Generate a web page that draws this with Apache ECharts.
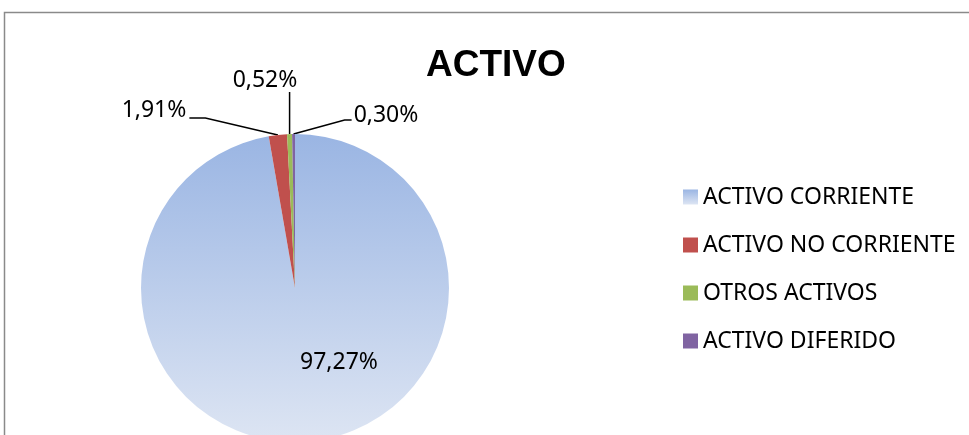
<!DOCTYPE html>
<html>
<head>
<meta charset="utf-8">
<script src="https://cdn.jsdelivr.net/npm/echarts@6/dist/echarts.min.js"></script>
<style>
  html, body { margin: 0; padding: 0; background: #fff; }
  #chart { width: 969px; height: 435px; }
</style>
</head>
<body>
<div id="chart"></div>
<script>
// datos
const categorias = ['ACTIVO CORRIENTE', 'ACTIVO NO CORRIENTE', 'OTROS ACTIVOS', 'ACTIVO DIFERIDO']
const valores = [97.27, 1.91, 0.52, 0.30]
const colores = ['#9cb6e3', '#c0504d', '#9bbb59', '#8064a2']

const chart = echarts.init(document.getElementById('chart'))

const blueGrad = new echarts.graphic.LinearGradient(0, 0, 0, 1, [
  { offset: 0, color: '#9ab5e3' },
  { offset: 1, color: '#dde5f3' }
])

// donde va cada etiqueta (centro del texto)
const labelPos = [
  { x: 339, y: 362 },
  { x: 154, y: 110 },
  { x: 265, y: 80 },
  { x: 386, y: 115 }
]

const option = {
  animation: false,
  title: {
    text: 'ACTIVO',
    left: 421,
    top: 42,
    textStyle: {
      fontFamily: 'Liberation Sans',
      fontWeight: 'bold',
      fontSize: 37,
      color: '#000'
    }
  },
  graphic: [
    {
      type: 'rect',
      shape: { x: 4.5, y: 12.5, width: 1100, height: 1000 },
      style: { fill: 'none', stroke: '#8a8a8a', lineWidth: 1.5 },
      silent: true
    }
  ],
  legend: {
    orient: 'vertical',
    left: 678,
    top: 180,
    itemWidth: 15,
    itemHeight: 15,
    itemGap: 24,
    icon: 'rect',
    textStyle: {
      fontFamily: 'Noto Sans',
      fontSize: 23,
      lineHeight: 24,
      color: '#000'
    },
    data: categorias
  },
  series: [
    {
      type: 'pie',
      center: [295, 288],
      radius: 154,
      startAngle: 90,
      clockwise: true,
      avoidLabelOverlap: false,
      data: categorias.map((name, i) => ({
        name,
        value: valores[i],
        itemStyle: { color: i === 0 ? blueGrad : colores[i] },
        label: { position: i === 0 ? 'inside' : 'outside' },
        labelLine: { show: i !== 0 }
      })),
      label: {
        formatter: p => p.value.toFixed(2).replace('.', ',') + '%',
        fontFamily: 'Noto Sans',
        fontSize: 23,
        color: '#000'
      },
      labelLine: {
        lineStyle: { color: '#000', width: 1.5 }
      },
      labelLayout: params => {
        const i = params.dataIndex
        const pos = labelPos[i]
        const out = { x: pos.x, y: pos.y, align: 'center', verticalAlign: 'middle' }
        const a = params.labelLinePoints ? params.labelLinePoints[0] : null
        if (a) {
          const r = params.labelRect
          const w = r.width / 2
          if (i === 1) {
            out.labelLinePoints = [a, [pos.x + w + 19, pos.y + 8], [pos.x + w + 3, pos.y + 8]]
          } else if (i === 2) {
            out.labelLinePoints = [a, [a[0], pos.y + 12], [a[0], pos.y + 12]]
          } else if (i === 3) {
            out.labelLinePoints = [a, [pos.x - w - 9, pos.y + 5], [pos.x - w - 2, pos.y + 5]]
          }
        }
        return out
      }
    }
  ]
}

chart.setOption(option)
</script>
</body>
</html>
